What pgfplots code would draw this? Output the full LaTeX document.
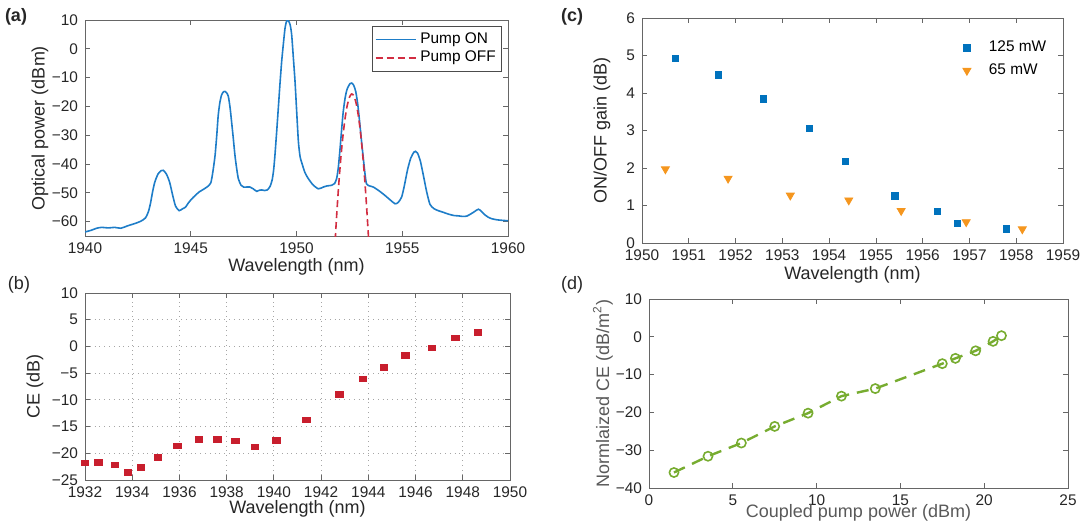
\documentclass[border=0pt]{standalone}
\usepackage{fontspec}
\setmainfont{Liberation Sans}
\usepackage{pgfplots}
\pgfplotsset{compat=1.18}

\definecolor{onblue}{RGB}{30,125,200}
\definecolor{offred}{RGB}{210,45,65}
\definecolor{cered}{RGB}{200,30,45}
\definecolor{gblue}{RGB}{0,114,189}
\definecolor{gorange}{RGB}{245,150,30}
\definecolor{ngreen}{RGB}{119,172,48}

\pgfplotsset{
  panel/.style={
    scale only axis, anchor=south west,
    axis line style={draw=black!60},
    every tick/.style={draw=black!60, line width=0.4pt},
    tick align=inside, major tick length=2.5pt,
    tick label style={font=\fontsize{7.7}{9}\selectfont, text=black!85},
    label style={font=\fontsize{9}{10.5}\selectfont, text=black!85},
    /pgf/number format/assume math mode=true,
    /pgf/number format/set thousands separator={},
  },
  markleg/.style={legend image code/.code={%
    \path[draw=none, fill=none] (0pt,-2pt) rectangle (15pt,2pt);
    \draw[mark repeat=2,mark phase=2,##1] plot coordinates {(0pt,0pt) (6pt,0pt) (15pt,0pt)};}},
}

\begin{document}
\begin{tikzpicture}
\path[use as bounding box] (0,0) rectangle (542.5pt,260pt);

% (a) spectrum
\begin{axis}[panel,
  at={(42.5pt,142pt)}, width=211.5pt, height=108pt,
  xmin=1940, xmax=1960, ymin=-65, ymax=10,
  xtick={1940,1945,1950,1955,1960},
  ytick={-60,-50,-40,-30,-20,-10,0,10},
  yticklabels={−60,−50,−40,−30,−20,−10,0,10},
  xlabel={Wavelength (nm)}, ylabel={Optical power (dBm)},
  xlabel style={at={(axis description cs:0.5,-0.1435)}, anchor=center},
  ylabel style={at={(axis description cs:-0.1064,0.5)}, anchor=center},
  legend style={at={(0.986,0.972)}, anchor=north east, draw=black!70,
    font=\fontsize{7.7}{9}\selectfont, inner sep=1pt, row sep=-1.5pt,
    cells={anchor=west}},
]
\addlegendimage{legend image code/.code={\draw[onblue, line width=0.8pt] (0pt,0pt) -- (20pt,0pt);}}
\addlegendentry{Pump ON}
\addlegendimage{legend image code/.code={\draw[offred, line width=0.8pt, dash pattern=on 3.5pt off 2pt] (0pt,0pt) -- (20pt,0pt);}}
\addlegendentry{Pump OFF}
\addplot[forget plot, color=onblue, line width=0.8pt, smooth, tension=0.4] coordinates {
(1940.00,-63.6) (1940.30,-63.0) (1940.55,-62.3) (1940.80,-62.0) (1941.10,-62.2)
(1941.40,-62.0) (1941.70,-62.3) (1942.00,-61.5) (1942.30,-60.8) (1942.60,-60.0)
(1942.85,-58.8) (1943.00,-56.5) (1943.10,-53.5) (1943.20,-49.5) (1943.30,-46.3)
(1943.45,-43.5) (1943.60,-42.3) (1943.70,-42.2) (1943.85,-43.5) (1944.00,-46.3)
(1944.15,-51.0) (1944.28,-54.6) (1944.45,-56.2) (1944.60,-55.6) (1944.75,-55.0)
(1944.90,-53.4) (1945.05,-52.1) (1945.20,-51.0) (1945.40,-49.7) (1945.60,-48.8)
(1945.80,-47.8) (1945.95,-46.5) (1946.05,-42.5) (1946.15,-37.0) (1946.23,-30.0)
(1946.30,-23.0) (1946.38,-18.5) (1946.46,-16.0) (1946.55,-14.9) (1946.62,-14.8)
(1946.70,-15.3) (1946.78,-16.6) (1946.86,-20.5) (1946.93,-25.3) (1947.01,-31.0)
(1947.09,-37.0) (1947.17,-41.5) (1947.25,-45.1) (1947.38,-47.4) (1947.50,-48.0)
(1947.80,-48.0) (1947.95,-48.6) (1948.12,-49.5) (1948.25,-49.1) (1948.35,-49.0)
(1948.50,-49.2) (1948.62,-49.0) (1948.75,-47.8) (1948.85,-45.5) (1948.92,-42.0)
(1948.98,-37.0) (1949.06,-29.0) (1949.14,-20.6) (1949.22,-12.0) (1949.30,-4.3)
(1949.38,1.8) (1949.46,7.3) (1949.53,9.6) (1949.58,10.0) (1949.64,9.4)
(1949.70,8.3) (1949.77,5.0) (1949.85,-3.0) (1949.93,-11.3) (1950.01,-22.0)
(1950.09,-32.3) (1950.17,-37.5) (1950.25,-39.6) (1950.40,-43.0) (1950.56,-45.1)
(1950.75,-47.0) (1950.90,-48.0) (1951.03,-48.6) (1951.15,-48.4) (1951.27,-48.0)
(1951.45,-47.6) (1951.66,-47.4) (1951.80,-46.8) (1951.90,-45.0) (1951.98,-41.0)
(1952.06,-34.6) (1952.14,-27.5) (1952.21,-21.8) (1952.30,-17.0) (1952.38,-14.3)
(1952.45,-13.1) (1952.53,-12.1) (1952.61,-11.9) (1952.70,-12.6) (1952.80,-14.8)
(1952.90,-19.5) (1953.00,-26.5) (1953.08,-32.5) (1953.16,-38.1) (1953.24,-43.5)
(1953.31,-46.9) (1953.45,-47.6) (1953.63,-48.0) (1953.90,-49.3) (1954.18,-50.9)
(1954.45,-52.6) (1954.66,-53.8) (1954.80,-53.4) (1954.97,-51.5) (1955.10,-47.5)
(1955.25,-42.0) (1955.40,-38.0) (1955.55,-35.9) (1955.63,-35.6) (1955.72,-36.2)
(1955.85,-38.8) (1956.00,-44.0) (1956.15,-49.5) (1956.31,-54.0) (1956.50,-55.5)
(1956.70,-56.2) (1956.95,-56.8) (1957.18,-57.4) (1957.45,-57.9) (1957.65,-58.0)
(1957.85,-58.2) (1958.05,-58.1) (1958.25,-57.3) (1958.40,-56.6) (1958.60,-55.7)
(1958.75,-56.5) (1958.90,-57.6) (1959.05,-58.4) (1959.23,-59.0) (1959.50,-59.4)
(1959.80,-59.6) (1960.00,-59.7)
};
\addplot[forget plot, color=offred, line width=0.8pt, dash pattern=on 3.5pt off 2pt, smooth] coordinates {
(1951.80,-70.2) (1951.90,-57.7) (1952.00,-46.8) (1952.10,-37.6) (1952.20,-30.0)
(1952.30,-24.0) (1952.40,-19.6) (1952.50,-16.9) (1952.60,-15.7) (1952.70,-16.2)
(1952.80,-18.3) (1952.90,-22.1) (1953.00,-27.4) (1953.10,-34.4) (1953.20,-42.9)
(1953.30,-53.2) (1953.40,-65.0) (1953.45,-71.5)
};
\end{axis}

% (b) conversion efficiency
\begin{axis}[panel,
  at={(42.5pt,20pt)}, width=212.5pt, height=93.5pt,
  xmin=1932, xmax=1950, ymin=-25, ymax=10,
  xtick={1932,1934,...,1950},
  ytick={-25,-20,-15,-10,-5,0,5,10},
  yticklabels={−25,−20,−15,−10,−5,0,5,10},
  grid=major, major grid style={dotted, black!35},
  xlabel={Wavelength (nm)}, ylabel={CE (dB)},
  xlabel style={at={(axis description cs:0.5,-0.155)}, anchor=center},
  ylabel style={at={(axis description cs:-0.1176,0.5)}, anchor=center},
]
\addplot[only marks, mark=square*, mark size=1.6pt, color=cered,
  mark options={xscale=1.15, yscale=0.85}] coordinates {
(1932.0,-21.75) (1932.56,-21.7) (1933.27,-22.2) (1933.81,-23.6) (1934.37,-22.6)
(1935.08,-20.8) (1935.91,-18.6) (1936.83,-17.4) (1937.61,-17.4) (1938.37,-17.7)
(1939.2,-18.8) (1940.11,-17.6) (1941.38,-13.75) (1942.78,-9.0) (1943.77,-6.1)
(1944.67,-3.9) (1945.57,-1.7) (1946.69,-0.3) (1947.68,1.6) (1948.65,2.6)
};
\end{axis}

% (c) on/off gain
\begin{axis}[panel,
  at={(321pt,138.5pt)}, width=210.5pt, height=112.5pt,
  xmin=1950, xmax=1959, ymin=0, ymax=6,
  xtick={1950,1951,...,1959}, ytick={0,1,...,6},
  xlabel={Wavelength (nm)}, ylabel={ON/OFF gain (dB)},
  xlabel style={at={(axis description cs:0.5,-0.142)}, anchor=center},
  ylabel style={at={(axis description cs:-0.095,0.5)}, anchor=center},
  legend style={at={(0.728,0.935)}, anchor=north west, draw=none, fill=none,
    font=\fontsize{7.7}{9}\selectfont, row sep=0.5pt, cells={anchor=west}},
]
\addplot[only marks, markleg, mark=square*, mark size=1.6pt, color=gblue] coordinates {
(1950.71,4.93) (1951.63,4.48) (1952.6,3.84) (1953.58,3.06) (1954.35,2.18)
(1955.41,1.26) (1956.32,0.85) (1956.74,0.52) (1957.79,0.38)
};
\addlegendentry{125 mW}
\addplot[only marks, markleg, mark=triangle*, mark size=2.3pt, color=gorange,
  mark options={rotate=180}] coordinates {
(1950.5,1.97) (1951.84,1.72) (1953.17,1.27) (1954.42,1.14) (1955.54,0.86)
(1956.93,0.56) (1958.13,0.37)
};
\addlegendentry{65 mW}
\end{axis}

% (d) normalized CE
\begin{axis}[panel,
  at={(324.5pt,16pt)}, width=209.5pt, height=94.5pt,
  xmin=0, xmax=25, ymin=-40, ymax=10,
  xtick={0,5,...,25},
  ytick={-40,-30,-20,-10,0,10},
  yticklabels={−40,−30,−20,−10,0,10},
  xlabel={Coupled pump power (dBm)}, ylabel={Normlaized CE (dB/m\textsuperscript{2})},
  xlabel style={at={(axis description cs:0.5,-0.13)}, anchor=center, text=black!65},
  ylabel style={at={(axis description cs:-0.11,0.5)}, anchor=center, text=black!65},
]
\addplot[color=ngreen, line width=1.2pt, dash pattern=on 6pt off 4pt,
  mark=o, mark size=2.3pt, mark options={solid, line width=0.8pt}] coordinates {
(1.49,-35.9) (3.52,-31.6) (5.51,-28.1) (7.5,-23.7) (9.49,-20.2) (11.48,-15.7)
(13.5,-13.7) (17.5,-7.1) (18.28,-5.7) (19.49,-3.7) (20.53,-1.2) (21.03,0.3)
};
\end{axis}

\node[font=\fontsize{9}{10.5}\selectfont\bfseries, text=black!85] at (8pt,251.5pt) {(a)};
\node[font=\fontsize{9}{10.5}\selectfont, text=black!85] at (9.5pt,117.5pt) {(b)};
\node[font=\fontsize{9}{10.5}\selectfont\bfseries, text=black!85] at (286pt,251.5pt) {(c)};
\node[font=\fontsize{9}{10.5}\selectfont, text=black!85] at (286pt,117.5pt) {(d)};
\end{tikzpicture}
\end{document}
